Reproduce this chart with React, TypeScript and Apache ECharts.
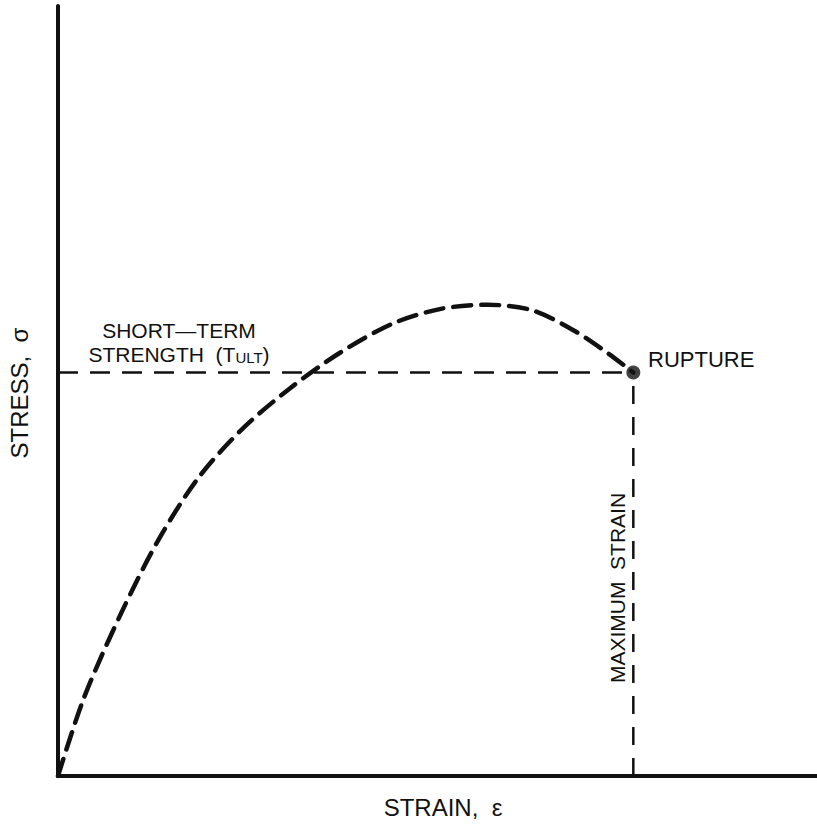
import React, { useEffect, useRef } from "react";
import * as echarts from "echarts";

// Stress-strain curve (strain %, stress %)
const strain = [0, 3.4, 8.3, 13.2, 18.4, 24.1, 30.5, 37.2, 44.2, 50.6, 56.6, 62.4, 67.9, 72.6, 75.8];
const stress = [0, 10.1, 21.1, 30.6, 38.6, 44.9, 50.3, 55.0, 58.8, 60.7, 61.2, 60.5, 57.9, 54.8, 52.4];

const ruptureStrain = 75.8;
const ruptureStress = 52.4;
const axisMax = [100, 100];

const FONT = "'Liberation Sans', Arial, sans-serif";
const INK = "#111";

export default function App() {
  const ref = useRef<HTMLDivElement>(null);
  useEffect(() => {
    if (!ref.current) return;
    const chart = echarts.init(ref.current, undefined, { renderer: "svg" });
    const curve = strain.map((x, i) => [x, stress[i]]);
    chart.setOption({
      animation: false,
      backgroundColor: "#fff",
      grid: { left: 58, right: 0, top: 6, bottom: 54 },
      xAxis: {
        type: "value", min: 0, max: axisMax[0],
        axisLine: { show: true, lineStyle: { color: INK, width: 4 } },
        axisTick: { show: false }, axisLabel: { show: false }, splitLine: { show: false },
      },
      yAxis: {
        type: "value", min: 0, max: axisMax[1],
        axisLine: { show: true, lineStyle: { color: INK, width: 4 } },
        axisTick: { show: false }, axisLabel: { show: false }, splitLine: { show: false },
      },
      series: [
        {
          type: "line", data: [[0, ruptureStress], [ruptureStrain, ruptureStress]],
          symbol: "none", silent: true,
          lineStyle: { color: INK, width: 2.5, type: [20, 12] },
        },
        {
          type: "line", data: [[ruptureStrain, 0], [ruptureStrain, ruptureStress]],
          symbol: "none", silent: true,
          lineStyle: { color: INK, width: 2.5, type: [18, 13] },
        },
        {
          type: "line", data: curve, smooth: 0.3,
          symbol: "none", silent: true,
          lineStyle: { color: INK, width: 4.5, type: [18, 10], cap: "round" },
        },
        {
          type: "scatter", data: [[ruptureStrain, ruptureStress]],
          symbolSize: 14, itemStyle: { color: INK },
        },
      ],
      graphic: [
        {
          type: "text", x: 179, y: 330,
          style: { text: "SHORT\u2014TERM", fontSize: 21, lineHeight: 21, fontFamily: FONT, fill: INK, align: "center", verticalAlign: "middle" },
        },
        {
          type: "text", x: 179, y: 354,
          style: {
            text: "STRENGTH  (T{sub|ULT})", fontSize: 21, lineHeight: 21,
            fontFamily: FONT, fill: INK, align: "center", verticalAlign: "middle",
            rich: { sub: { fontSize: 15, lineHeight: 12, verticalAlign: "bottom", fontFamily: FONT, fill: INK } },
          },
        },
        {
          type: "text", x: 648, y: 359,
          style: { text: "RUPTURE", fontSize: 22, fontFamily: FONT, fill: INK, align: "left", verticalAlign: "middle" },
        },
        {
          type: "text", x: 617, y: 588, rotation: Math.PI / 2,
          style: { text: "MAXIMUM  STRAIN", fontSize: 21, fontFamily: FONT, fill: INK, align: "center", verticalAlign: "middle" },
        },
        {
          type: "text", x: 19, y: 393, rotation: Math.PI / 2,
          style: { text: "STRESS,  \u03c3", fontSize: 24, fontFamily: FONT, fill: INK, align: "center", verticalAlign: "middle" },
        },
        {
          type: "text", x: 443, y: 807,
          style: { text: "STRAIN,  \u03b5", fontSize: 24, fontFamily: FONT, fill: INK, align: "center", verticalAlign: "middle" },
        },
      ],
    });
    return () => chart.dispose();
  }, []);
  return <div ref={ref} style={{ position: "fixed", left: 0, top: 0, width: 817, height: 830 }} />;
}
